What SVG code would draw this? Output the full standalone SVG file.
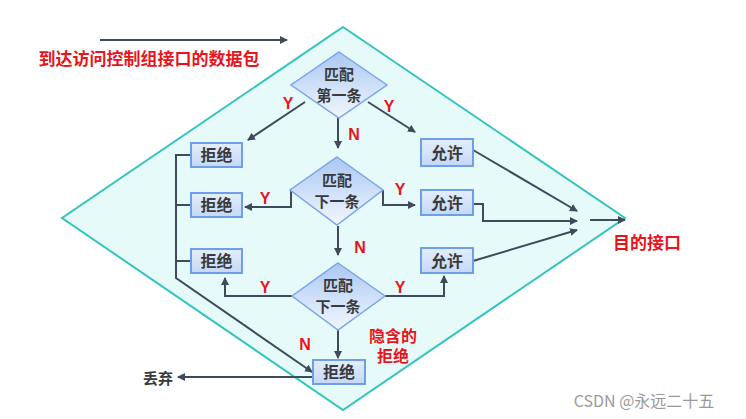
<svg xmlns="http://www.w3.org/2000/svg" width="746" height="419" viewBox="0 0 746 419">
<defs>
<linearGradient id="bg" x1="0" y1="0" x2="0" y2="1"><stop offset="0" stop-color="#e4eefc"/><stop offset="1" stop-color="#c4d8f6"/></linearGradient>
<linearGradient id="dg" x1="0" y1="0" x2="0" y2="1"><stop offset="0" stop-color="#a9c8f2"/><stop offset="1" stop-color="#f2f7ff"/></linearGradient>
<marker id="a" markerWidth="8" markerHeight="8" refX="7" refY="4" orient="auto" markerUnits="userSpaceOnUse"><path d="M0,0 L8,4 L0,8 z" fill="#3f4a5a"/></marker>
</defs>
<style>
.c{fill:none;stroke:#3f4a5a;stroke-width:2;}
.b rect{fill:url(#bg);stroke:#6f9fe8;stroke-width:2;}
.b text,.d text{font-family:"Noto Sans CJK SC",sans-serif;font-size:16px;font-weight:bold;fill:#3a3a3a;text-anchor:middle;}
.d text{font-size:15px;}
.d polygon{fill:url(#dg);stroke:#7aa6ea;stroke-width:1.5;}
.r{font-family:"Liberation Sans","Noto Sans CJK SC",sans-serif;font-size:16px;font-weight:bold;fill:#e8141c;text-anchor:middle;}
</style>
<rect width="746" height="419" fill="#fff"/>
<polygon points="343,27 625,218 343,410 62,218" fill="#e6fafa" stroke="#33c4c0" stroke-width="2"/>
<g id="connectors">
<line class="c" x1="100" y1="40" x2="287" y2="40" marker-end="url(#a)"/>
<line class="c" x1="305" y1="102" x2="248" y2="140" marker-end="url(#a)"/>
<line class="c" x1="338" y1="118" x2="338" y2="148" marker-end="url(#a)"/>
<line class="c" x1="368" y1="102" x2="415" y2="132" marker-end="url(#a)"/>
<polyline class="c" points="291,190 291,207 245,207" marker-end="url(#a)"/>
<polyline class="c" points="383,190 383,205 415,205" marker-end="url(#a)"/>
<line class="c" x1="338" y1="226" x2="338" y2="255" marker-end="url(#a)"/>
<polyline class="c" points="292,296 225,296 225,278" marker-end="url(#a)"/>
<polyline class="c" points="385,296 444,296 444,276" marker-end="url(#a)"/>
<line class="c" x1="338" y1="330" x2="338" y2="358" marker-end="url(#a)"/>
<polyline class="c" points="191,155 176,155 176,278 312,372" marker-end="url(#a)"/>
<line class="c" x1="176" y1="205" x2="191" y2="205"/>
<line class="c" x1="176" y1="261" x2="191" y2="261"/>
<line class="c" x1="313" y1="377" x2="178" y2="377" marker-end="url(#a)"/>
<line class="c" x1="473" y1="150" x2="577" y2="211" marker-end="url(#a)"/>
<polyline class="c" points="473,204 483,204 483,221 577,221" marker-end="url(#a)"/>
<line class="c" x1="473" y1="261" x2="577" y2="230" marker-end="url(#a)"/>
<line class="c" x1="590" y1="220" x2="625" y2="220" marker-end="url(#a)"/>
</g>
<g id="d1" class="d"><polygon points="339,52 387,85 339,118 291,85"/><text x="339" y="80">匹配</text><text x="339" y="101">第一条</text></g>
<g id="d2" class="d"><polygon points="337,157 383,190 337,225 290,190"/><text x="337" y="186">匹配</text><text x="337" y="207">下一条</text></g>
<g id="d3" class="d"><polygon points="338,263 385,296 338,330 292,296"/><text x="338" y="291">匹配</text><text x="338" y="312">下一条</text></g>
<g id="n1" class="b"><rect x="191" y="143" width="51" height="24"/><text x="216.5" y="161">拒绝</text></g>
<g id="n2" class="b"><rect x="191" y="193" width="51" height="24"/><text x="216.5" y="211">拒绝</text></g>
<g id="n3" class="b"><rect x="191" y="249" width="51" height="24"/><text x="216.5" y="267">拒绝</text></g>
<g id="n4" class="b"><rect x="313" y="360" width="52" height="24"/><text x="339" y="378">拒绝</text></g>
<g id="p1" class="b"><rect x="421" y="139" width="52" height="27"/><text x="447" y="159">允许</text></g>
<g id="p2" class="b"><rect x="421" y="190" width="52" height="25"/><text x="447" y="209">允许</text></g>
<g id="p3" class="b"><rect x="421" y="248" width="52" height="25"/><text x="447" y="267">允许</text></g>
<g id="labels">
<text class="r" x="288" y="109">Y</text><text class="r" x="354" y="140">N</text><text class="r" x="389" y="112">Y</text>
<text class="r" x="265" y="204">Y</text><text class="r" x="400" y="195">Y</text><text class="r" x="360" y="253">N</text>
<text class="r" x="265" y="293">Y</text><text class="r" x="400" y="293">Y</text><text class="r" x="305" y="350">N</text>
<text class="r" x="393" y="342">隐含的</text><text class="r" x="393" y="362">拒绝</text>
<text class="r" x="149" y="65" style="font-size:17px">到达访问控制组接口的数据包</text>
<text class="r" x="647" y="249" style="font-size:17px">目的接口</text>
<text x="158" y="384" style="font-family:'Noto Sans CJK SC',sans-serif;font-size:15px;font-weight:bold;fill:#3a3a3a;text-anchor:middle">丢弃</text>
<text x="644" y="407" style="font-family:'Noto Sans CJK SC',sans-serif;font-size:16px;fill:#9a9a9a;text-anchor:middle">CSDN @永远二十五</text>
</g>
</svg>
